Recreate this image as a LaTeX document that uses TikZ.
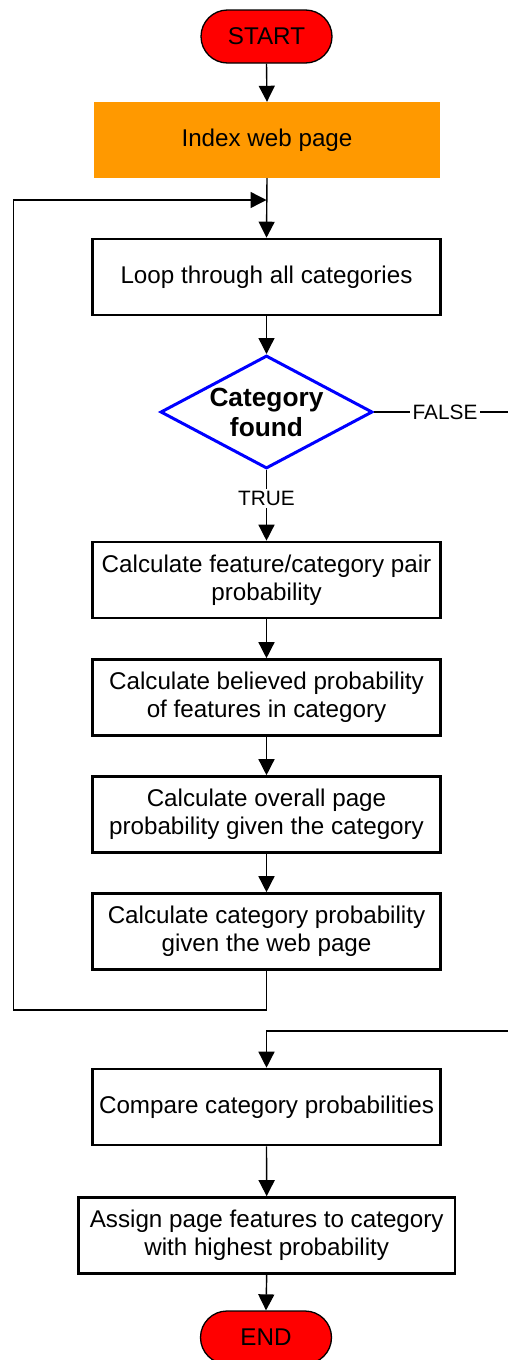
\documentclass[tikz,border=0pt]{standalone}
\usepackage{fontspec}
\setmainfont{Liberation Sans}
\usetikzlibrary{arrows.meta,shapes.geometric,shapes.misc}

\definecolor{termred}{HTML}{FF0000}
\definecolor{indexorange}{HTML}{FF9900}
\definecolor{decblue}{HTML}{0000FF}

\tikzset{
  boxtext/.style={font=\fontsize{24.2}{28}\selectfont, align=center},
  terminal/.style={boxtext, rounded rectangle, draw=black, line width=1.3pt,
    fill=termred, minimum width=131pt, minimum height=53pt, inner sep=0pt},
  procbox/.style={boxtext, rectangle, draw=black, line width=2.6pt,
    minimum width=348pt, minimum height=76pt, inner sep=0pt},
  decision/.style={diamond, draw=decblue, line width=3pt, aspect=1.876,
    minimum width=212pt, minimum height=113pt, inner sep=0pt,
    font=\fontsize{26.3}{30}\selectfont\bfseries, align=center},
  branchlabel/.style={font=\fontsize{20.8}{24}\selectfont, inner sep=2.5pt},
  link/.style={line width=1.4pt, draw=black},
  arr/.style={link, -{Triangle[length=16pt,width=16pt]}}
}

\begin{document}
\begin{tikzpicture}[x=1pt,y=-1pt]
  \useasboundingbox (0,0) rectangle (508,1360);
  \clip (0,0) rectangle (508,1360);
  \fill[white] (0,0) rectangle (508,1360);

  % main column
  \node[terminal] (start) at (266.5,36.5) {START};
  \node[boxtext, rectangle, fill=indexorange, minimum width=346pt,
        minimum height=76pt, inner sep=0pt] (index) at (267,140) {Index web page};
  \node[procbox] (loop) at (266.5,277) {Loop through all categories};
  \node[decision] (dec) at (266.5,412) {Category\\found};
  \node[branchlabel] (true) at (266.5,498.5) {TRUE};
  \node[branchlabel] (false) at (445,412) {FALSE};
  \node[procbox] (p1) at (266.5,580) {Calculate feature/category pair\\probability};
  \node[procbox] (p2) at (266.5,697.5) {Calculate believed probability\\of features in category};
  \node[procbox] (p3) at (266.5,814.5) {Calculate overall page\\probability given the category};
  \node[procbox] (p4) at (266.5,931.5) {Calculate category probability\\given the web page};
  \node[procbox] (cmp) at (266.5,1107) {Compare category probabilities};
  \node[procbox, minimum width=376.7pt] (assign) at (266.7,1235.5)
       {Assign page features to category\\with highest probability};
  \node[terminal] (end) at (266,1337.5) {END};

  % routing points of the two loops
  \coordinate (lb) at (13.3,1010);
  \coordinate (lt) at (13.3,200);
  \coordinate (jn) at (266.5,200);
  \coordinate (fr1) at (515,412);
  \coordinate (fr2) at (515,1031);

  % straight connectors
  \draw[arr] (start.south) -- (index.north);
  \draw[arr] (index.south) -- (loop.north);
  \draw[arr] (loop.south) -- (dec.north);
  \draw[link] (dec.south) -- (true.north);
  \draw[arr] (true.south) -- (p1.north);
  \draw[arr] (p1.south) -- (p2.north);
  \draw[arr] (p2.south) -- (p3.north);
  \draw[arr] (p3.south) -- (p4.north);
  \draw[arr] (cmp.south) -- (assign.north);
  \draw[arr] (assign.south) -- (end.north);

  % back to the top of the category loop
  \draw[arr] (p4.south) |- (lb) -- (lt) -- (jn);

  % no category found: leave the loop
  \draw[link] (dec.east) -- (false.west);
  \draw[arr] (false.east) -- (fr1) -- (fr2) -| (cmp.north);
\end{tikzpicture}
\end{document}
